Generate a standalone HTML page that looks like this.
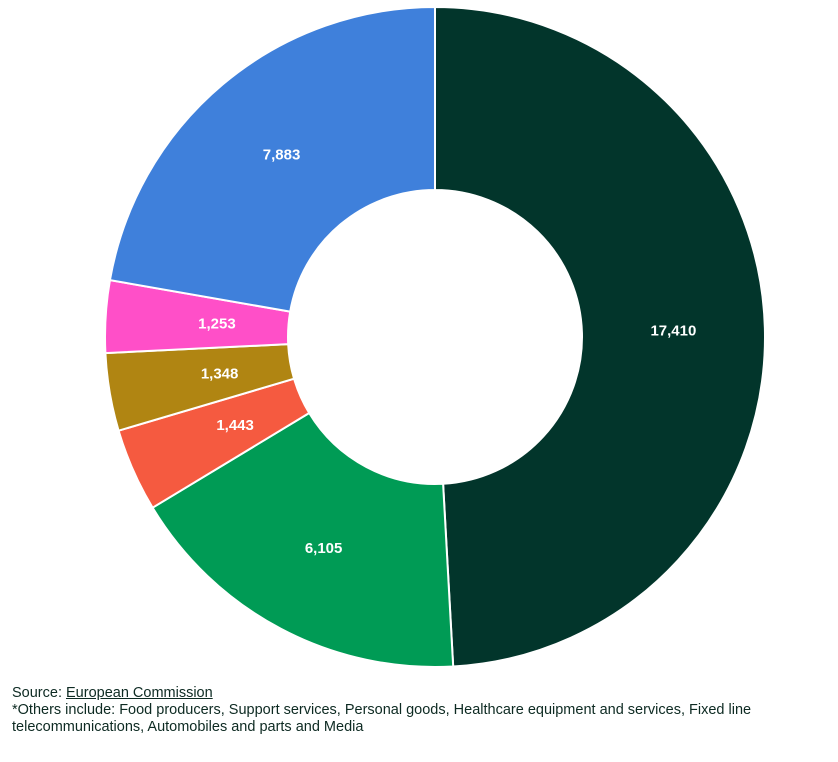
<!DOCTYPE html>
<html><head><meta charset="utf-8"><style>
body{margin:0;background:#fff;width:838px;height:762px;overflow:hidden;font-family:"Liberation Sans",sans-serif}
#foot{position:absolute;left:12px;top:685px;font-size:14.5px;line-height:17px;color:#0d2a22}
#foot a{color:#0d2a22;text-decoration:underline}
</style></head><body>
<svg id="chart" width="838" height="680" style="position:absolute;left:0;top:0"></svg>
<div id="foot">
<div>Source: <a>European Commission</a></div>
<div>*Others include: Food producers, Support services, Personal goods, Healthcare equipment and services, Fixed line telecommunications, Automobiles and parts and Media</div>
</div>
<script>
const categories=["A","B","C","D","E","F"];
const values=[17410,6105,1443,1348,1253,7883];
const labels=["17,410","6,105","1,443","1,348","1,253","7,883"];
const colors=["#02352b","#009b55","#f55a40","#b08512","#ff4fc8","#3f80db"];
const cx=435,cy=337,R=330,r=147,ns="http://www.w3.org/2000/svg";
const svg=document.getElementById('chart');
const total=values.reduce((a,b)=>a+b,0);
function pt(a,rad){return [cx+rad*Math.sin(a),cy-rad*Math.cos(a)];}
let a0=0;
values.forEach((v,i)=>{
 const a1=a0+v/total*2*Math.PI;
 const [x1,y1]=pt(a0,R),[x2,y2]=pt(a1,R),[x3,y3]=pt(a1,r),[x4,y4]=pt(a0,r);
 const lg=(a1-a0)>Math.PI?1:0;
 const p=document.createElementNS(ns,'path');
 p.setAttribute('d',`M${x1},${y1}A${R},${R} 0 ${lg} 1 ${x2},${y2}L${x3},${y3}A${r},${r} 0 ${lg} 0 ${x4},${y4}Z`);
 p.setAttribute('fill',colors[i]);p.setAttribute('stroke','#fff');p.setAttribute('stroke-width','2');
 
 
 svg.appendChild(p);
 const [lx,ly]=pt((a0+a1)/2,(R+r)/2+ (v/total<0.06? -20:0));
 const t=document.createElementNS(ns,'text');
 t.setAttribute('x',lx);t.setAttribute('y',ly+5);t.setAttribute('text-anchor','middle');
 t.setAttribute('fill','#fff');t.setAttribute('font-size','15');t.setAttribute('font-weight','bold');
 t.setAttribute('font-family','Liberation Sans, sans-serif');
 t.textContent=labels[i];
 
 
 svg.appendChild(t);
 a0=a1;
});
</script>
</body></html>
